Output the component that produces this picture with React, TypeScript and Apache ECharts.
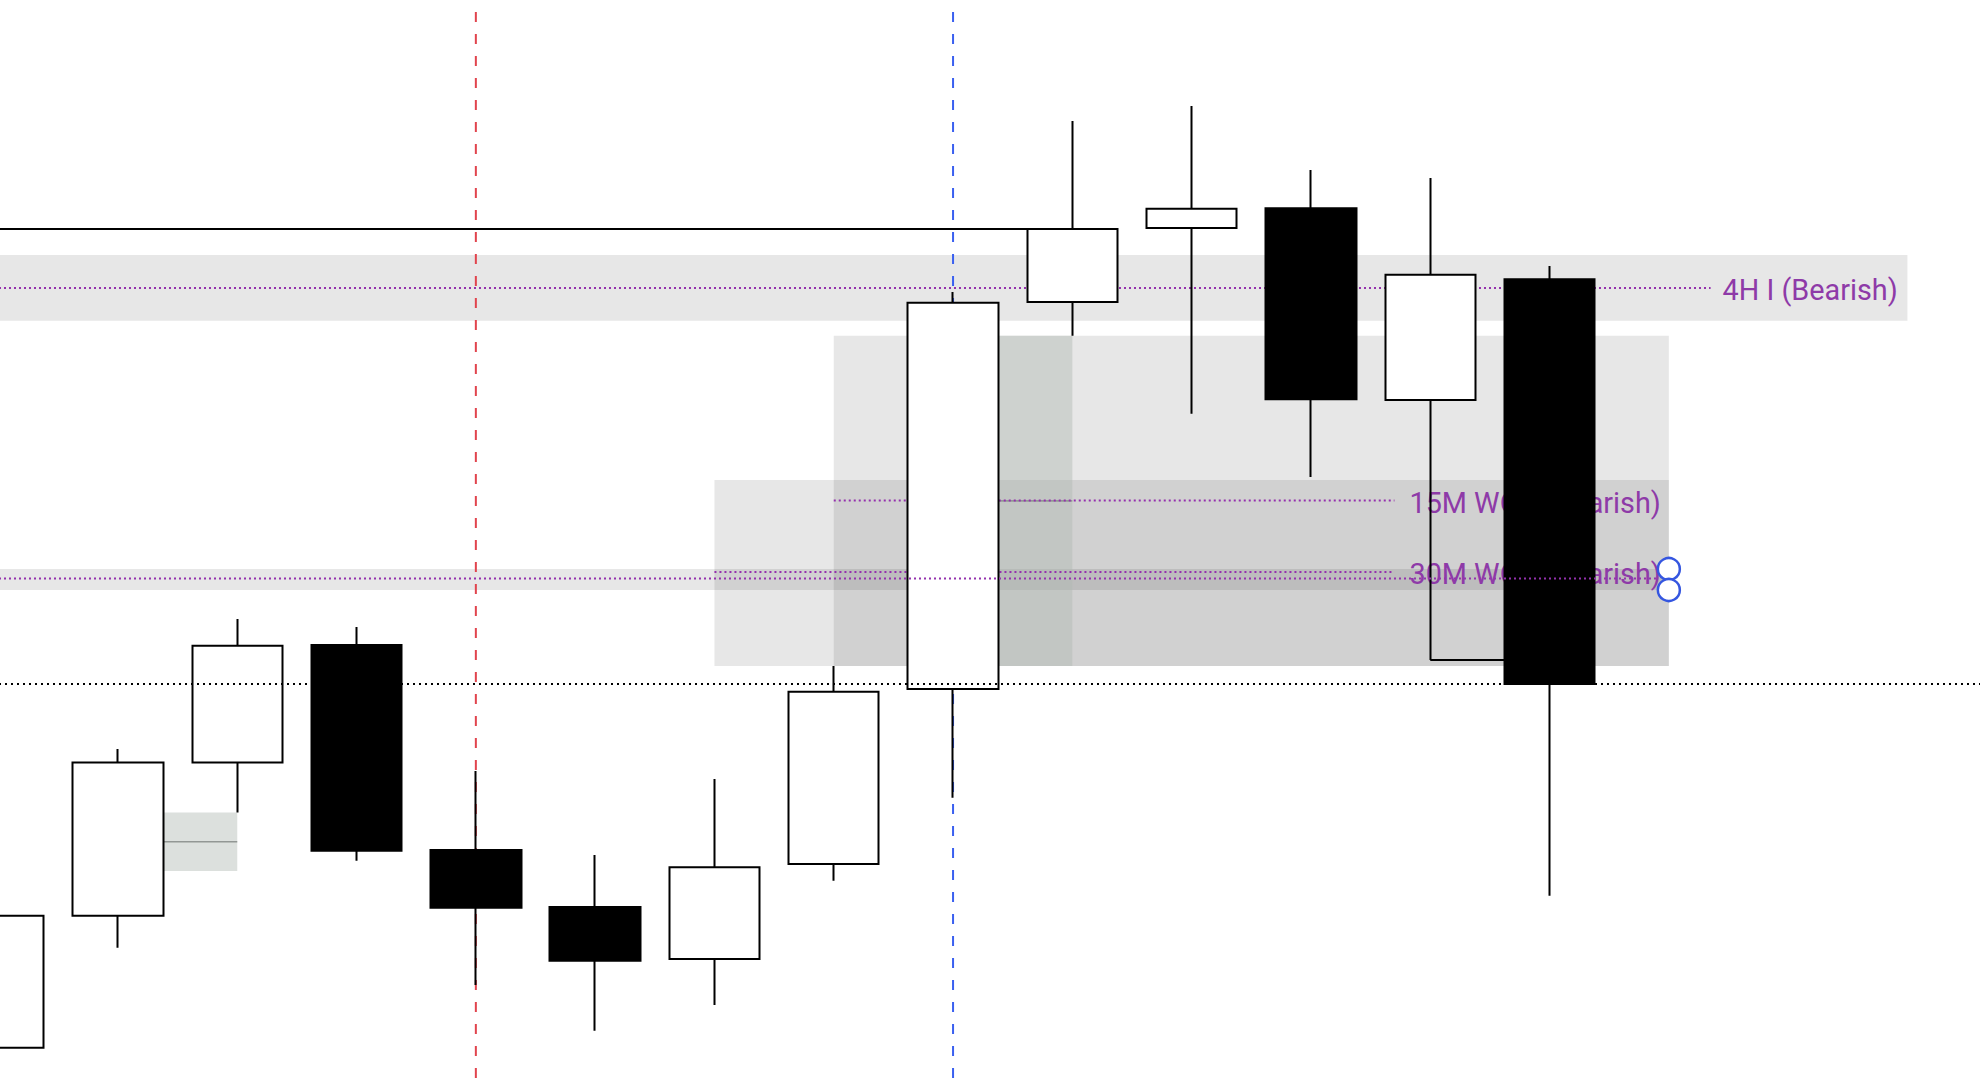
import React, { useEffect, useRef } from "react";
import * as echarts from "echarts";

// ---- data (price units; chart has no visible axes) ----
const categories = [
  "09:00", "09:15", "09:30", "09:45", "10:00", "10:15", "10:30", "10:45", "11:00",
  "11:15", "11:30", "11:45", "12:00", "12:15", "12:30", "12:45", "13:00", "13:15",
];

// [open, close, low, high]
const ohlc = [
  [36.3, 168.3, 24, 213],
  [168.3, 321.5, 136.3, 335],
  [321.5, 438.3, 271.5, 465],
  [439, 233.3, 223.3, 457],
  [234, 176.3, 99, 313],
  [177, 123.3, 53.3, 229],
  [125, 216.7, 79, 305],
  [220, 392.3, 203.3, 418],
  [395, 781.3, 286.3, 792],
  [782, 855, 748.3, 963],
  [856, 875.3, 670.3, 978],
  [875.7, 684.7, 607, 914],
  [684, 809.3, 424, 906],
  [804.7, 400, 188.3, 818],
];

// zones: [fromIndex, toIndex, top, bottom]
const zones = [
  [-0.5, 16, 829, 763.3], // 4H I
  [7, 14, 748.3, 418], // 15M W
  [6, 14, 604, 418], // 30M W
  [-0.5, 14, 515, 494], // 30M level band
];

// fair value gaps: [fromIndex, toIndex, top, bottom]
const fvgs = [
  [1.386, 2, 271.5, 213],
  [8.386, 9, 748.3, 418],
];

// labelled levels: [fromIndex, toIndex, price]
const levels = [
  [-0.5, 14.35, 796],
  [7, 11.7, 583.5],
  [6, 11.7, 512],
];
const levelLabels = ["4H I (Bearish)", "15M WOB (Bearish)", "30M WOB (Bearish)"];

const swingHigh = [-0.5, 9, 855];
const levelOverlay = [-0.5, 13.9, 505.5];
const swingLowLink = [12, 13, 424];
const sessionMarks = [4, 8];
const handles = [
  [14, 515],
  [14, 494],
];

const PURPLE_LINE = "#9431ad";
const PURPLE_TEXT = "#8e3aa8";

function hLine(x1: number, x2: number, y: number, color: string, width: number, type: any, z: number) {
  return {
    type: "line",
    xAxisIndex: 1,
    yAxisIndex: 0,
    data: [
      [x1, y],
      [x2, y],
    ],
    symbol: "none",
    silent: true,
    z,
    lineStyle: { color, width, type },
  };
}

export default function App() {
  const ref = useRef<HTMLDivElement>(null);

  useEffect(() => {
    if (!ref.current) return;
    const chart = echarts.init(ref.current, undefined, { renderer: "svg" });
    const band = 119.3;
    const lastClose = ohlc[ohlc.length - 1][1];

    const series: any[] = [];

    // zones
    series.push({
      type: "custom",
      xAxisIndex: 1,
      yAxisIndex: 0,
      silent: true,
      z: 1,
      data: zones,
      renderItem: (params: any, api: any) => {
        const p1 = api.coord([api.value(0), api.value(2)]);
        const p2 = api.coord([api.value(1), api.value(3)]);
        return {
          type: "rect",
          shape: { x: p1[0], y: p1[1], width: p2[0] - p1[0], height: p2[1] - p1[1] },
          style: { fill: "rgba(0,0,0,0.094)" },
        };
      },
    });

    // fvgs
    series.push({
      type: "custom",
      xAxisIndex: 1,
      yAxisIndex: 0,
      silent: true,
      z: 2,
      data: fvgs,
      renderItem: (params: any, api: any) => {
        const p1 = api.coord([api.value(0), api.value(2)]);
        const p2 = api.coord([api.value(1), api.value(3)]);
        const mid = (p1[1] + p2[1]) / 2;
        return {
          type: "group",
          children: [
            {
              type: "rect",
              shape: { x: p1[0], y: p1[1], width: p2[0] - p1[0], height: p2[1] - p1[1] },
              style: { fill: "rgba(175,184,177,0.44)" },
            },
            {
              type: "line",
              shape: { x1: p1[0], y1: mid, x2: p2[0], y2: mid },
              style: { stroke: "#929794", lineWidth: 1.6 },
            },
          ],
        };
      },
    });

    // labelled dotted levels (below candles)
    levels.forEach((l) => series.push(hLine(l[0], l[1], l[2], PURPLE_LINE, 2, [2, 3], 3)));

    // labels
    series.push({
      type: "custom",
      xAxisIndex: 1,
      yAxisIndex: 0,
      silent: true,
      z: 3,
      data: levels,
      renderItem: (params: any, api: any) => {
        const p = api.coord([api.value(1), api.value(2)]);
        const gap = params.dataIndex === 0 ? 12 : 15;
        return {
          type: "text",
          x: p[0] + gap,
          y: p[1] + 2,
          style: {
            text: levelLabels[params.dataIndex],
            fill: PURPLE_TEXT,
            fontSize: 28.8,
            fontFamily: "Roboto, 'Noto Sans', sans-serif",
            verticalAlign: "middle",
            align: "left",
          },
        };
      },
    });

    // swing high line
    series.push(hLine(swingHigh[0], swingHigh[1], swingHigh[2], "#000000", 2, "solid", 3));
    series.push(hLine(swingLowLink[0], swingLowLink[1], swingLowLink[2], "#000000", 2, "solid", 3));

    // session vertical dashed lines
    const vColors = ["#e1444d", "#3a60f0"];
    sessionMarks.forEach((x, i) =>
      series.push({
        type: "line",
        xAxisIndex: 1,
        yAxisIndex: 0,
        data: [
          [x, 1072],
          [x, 0],
        ],
        symbol: "none",
        silent: true,
        z: 3,
        lineStyle: { color: vColors[i], width: 2, type: [10, 12] },
      })
    );

    // candles
    series.push({
      type: "candlestick",
      xAxisIndex: 0,
      yAxisIndex: 0,
      data: ohlc,
      barWidth: 91,
      z: 5,
      silent: true,
      itemStyle: {
        color: "#ffffff",
        color0: "#000000",
        borderColor: "#000000",
        borderColor0: "#000000",
        borderWidth: 2,
      },
    });

    // overlay lines above candles
    series.push(hLine(levelOverlay[0], levelOverlay[1], levelOverlay[2], PURPLE_LINE, 2, [2, 3], 6));
    series.push(hLine(-0.5, 17.5, lastClose, "#000000", 2, [2, 4], 6));

    // handles
    series.push({
      type: "scatter",
      xAxisIndex: 1,
      yAxisIndex: 0,
      data: handles,
      symbol: "circle",
      symbolSize: 22,
      silent: true,
      z: 8,
      itemStyle: { color: "#ffffff", borderColor: "#3556e0", borderWidth: 2.5, opacity: 1 },
    });

    chart.setOption({
      animation: false,
      backgroundColor: "#ffffff",
      grid: {
        left: -61,
        top: 0,
        width: band * categories.length,
        height: 1084,
        containLabel: false,
        outerBoundsMode: "none",
      },
      xAxis: [
        { type: "category", data: categories, show: false, boundaryGap: true },
        { type: "value", min: -0.5, max: categories.length - 0.5, show: false },
      ],
      yAxis: { type: "value", min: 0, max: 1084, show: false },
      series,
    });

    return () => chart.dispose();
  }, []);

  return (
    <div
      ref={ref}
      style={{ position: "fixed", left: 0, top: 0, width: 1980, height: 1084, background: "#fff" }}
    />
  );
}
